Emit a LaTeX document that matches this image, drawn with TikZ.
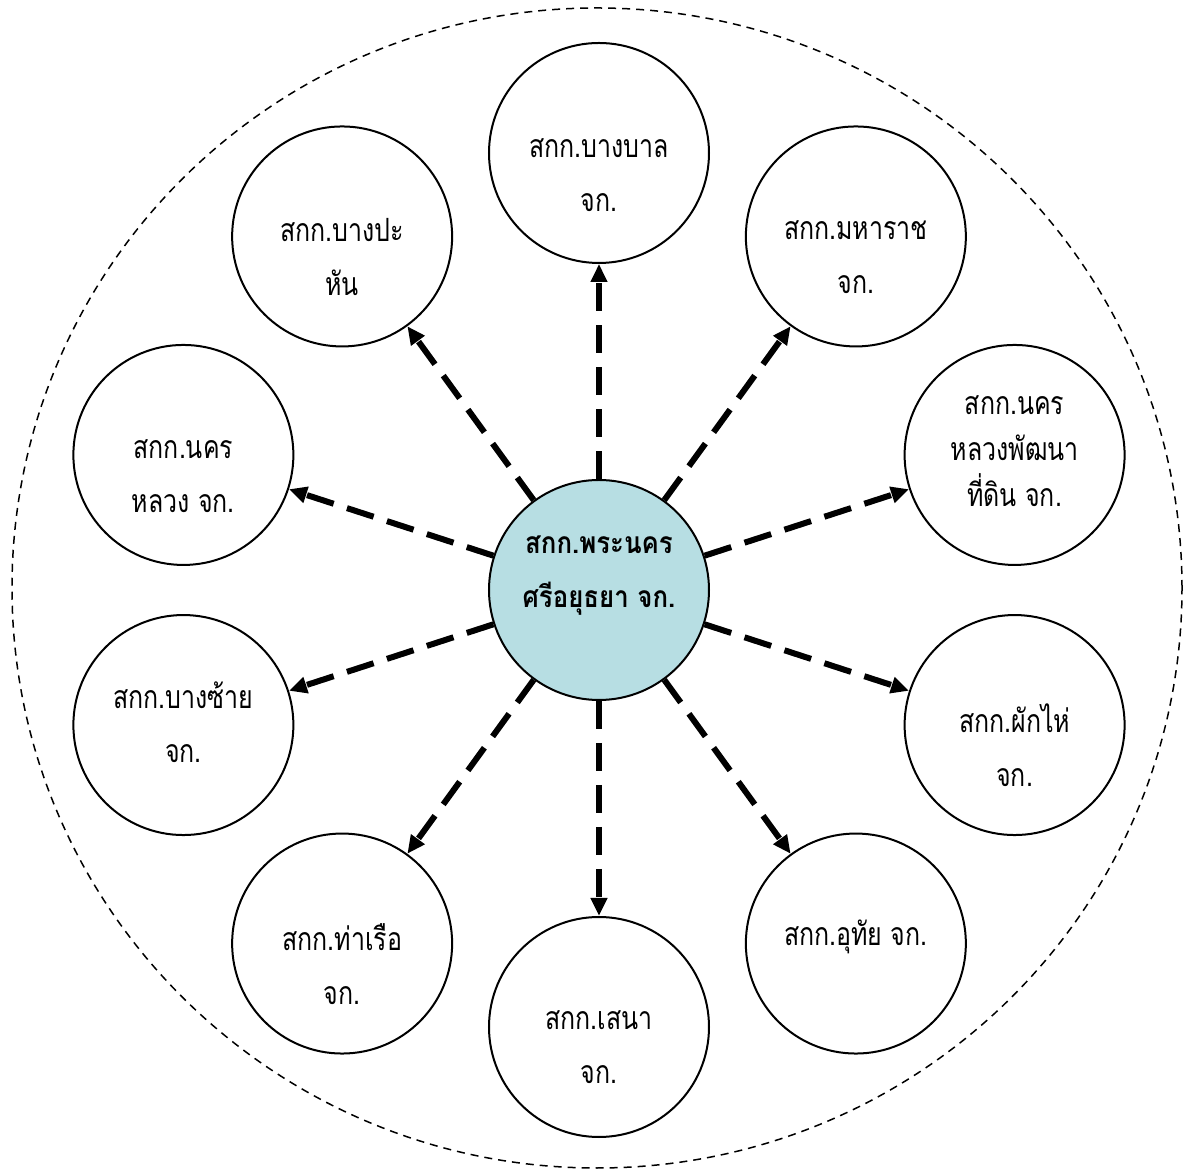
\documentclass[tikz,border=0pt]{standalone}
\usepackage{fontspec}
\setmainfont[Script=Thai,FakeStretch=0.78]{Loma}
\newfontfamily\hubfont[Script=Thai,FakeStretch=0.86]{Loma}
\usepackage{tikz}
\usetikzlibrary{arrows.meta}

\definecolor{hubfill}{HTML}{B7DEE3}

\begin{document}
\begin{tikzpicture}[x=0.5pt,y=0.5pt,
   coop/.style={draw,circle,line width=1pt,minimum size=110pt,inner sep=0pt},
   hub/.style={coop,fill=hubfill},
   coopname/.style={align=center,font=\fontsize{16pt}{27pt}\selectfont},
   link/.style={line width=3pt,dash pattern=on 14pt off 7pt,
     -{Triangle[length=9pt,width=8pt]}}]
\useasboundingbox (-599,-580) rectangle (589,590);
% outer boundary
\draw[line width=0.75pt,dash pattern=on 4pt off 3pt] (-2,2) ellipse [x radius=585,y radius=580];

\node[hub] (ayutthaya) at (0,0) {};
\node[coop] (bangban) at (90:437) {};
\node[coop] (maharat) at (54:437) {};
\node[coop] (nakhonphat) at (18:437) {};
\node[coop] (phakhai) at (-18:437) {};
\node[coop] (uthai) at (-54:437) {};
\node[coop] (sena) at (-90:437) {};
\node[coop] (tharuea) at (-126:437) {};
\node[coop] (bangsai) at (-162:437) {};
\node[coop] (nakhonluang) at (162:437) {};
\node[coop] (bangpahan) at (126:437) {};

% names
\node[coopname,font=\hubfont\fontsize{15pt}{27pt}\selectfont\bfseries] (ayutthaya-t) at ([yshift=7pt]ayutthaya.center) {สกก.พระนคร\\ศรีอยุธยา จก.};
\node[coopname] (bangban-t) at ([yshift=-11pt]bangban.center) {สกก.บางบาล\\จก.};
\node[coopname] (maharat-t) at ([yshift=-10.5pt]maharat.center) {สกก.มหาราช\\จก.};
\node[coopname,font=\fontsize{16pt}{23pt}\selectfont] (nakhonphat-t) at ([yshift=2pt]nakhonphat.center) {สกก.นคร\\หลวงพัฒนา\\ที่ดิน จก.};
\node[coopname] (phakhai-t) at ([yshift=-10pt]phakhai.center) {สกก.ผักไห่\\จก.};
\node[coopname] (uthai-t) at ([yshift=3.5pt]uthai.center) {สกก.อุทัย จก.};
\node[coopname] (sena-t) at ([yshift=-10pt]sena.center) {สกก.เสนา\\จก.};
\node[coopname] (tharuea-t) at ([yshift=-10.5pt]tharuea.center) {สกก.ท่าเรือ\\จก.};
\node[coopname] (bangsai-t) at ([yshift=1.5pt]bangsai.center) {สกก.บางซ้าย\\จก.};
\node[coopname] (nakhonluang-t) at ([yshift=-10.5pt]nakhonluang.center) {สกก.นคร\\หลวง จก.};
\node[coopname] (bangpahan-t) at ([yshift=-10.5pt]bangpahan.center) {สกก.บางปะ\\หัน};

% links
\draw[link] (ayutthaya) -- (bangban);
\draw[link] (ayutthaya) -- (maharat);
\draw[link] (ayutthaya) -- (nakhonphat);
\draw[link] (ayutthaya) -- (phakhai);
\draw[link] (ayutthaya) -- (uthai);
\draw[link] (ayutthaya) -- (sena);
\draw[link] (ayutthaya) -- (tharuea);
\draw[link] (ayutthaya) -- (bangsai);
\draw[link] (ayutthaya) -- (nakhonluang);
\draw[link] (ayutthaya) -- (bangpahan);
\end{tikzpicture}
\end{document}
